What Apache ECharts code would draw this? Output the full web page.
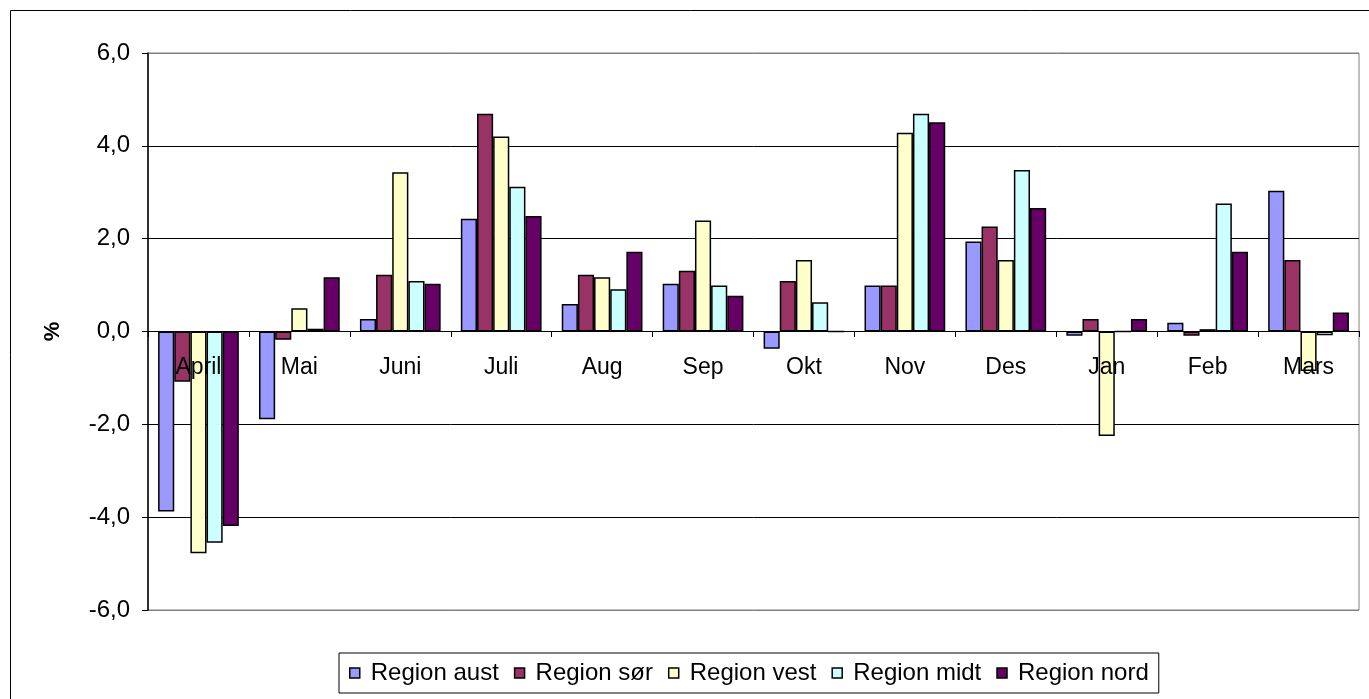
<!DOCTYPE html>
<html>
<head>
<meta charset="utf-8">
<script src="https://cdn.jsdelivr.net/npm/echarts@6/dist/echarts.min.js"></script>
<style>
  html, body { margin: 0; padding: 0; background: #fff; }
  #chart { width: 1369px; height: 699px; }
</style>
</head>
<body>
<div id="chart"></div>
<script>
const months = ['April', 'Mai', 'Juni', 'Juli', 'Aug', 'Sep', 'Okt', 'Nov', 'Des', 'Jan', 'Feb', 'Mars'];

const regionAust = [-3.88, -1.89, 0.27, 2.43, 0.59, 1.03, -0.37, 0.99, 1.94, -0.09, 0.19, 3.03];
const regionSor = [-1.08, -0.18, 1.22, 4.69, 1.22, 1.31, 1.09, 0.99, 2.26, 0.27, -0.09, 1.54];
const regionVest = [-4.78, 0.50, 3.43, 4.20, 1.17, 2.39, 1.54, 4.28, 1.54, -2.25, 0.05, -0.85];
const regionMidt = [-4.55, 0.06, 1.09, 3.12, 0.91, 0.99, 0.63, 4.69, 3.48, 0, 2.76, -0.08];
const regionNord = [-4.19, 1.17, 1.03, 2.49, 1.72, 0.77, 0, 4.51, 2.66, 0.27, 1.72, 0.41];

const seriesNames = ['Region aust', 'Region sør', 'Region vest', 'Region midt', 'Region nord'];
const seriesColors = ['#9999FF', '#993366', '#FFFFCC', '#CCFFFF', '#660066'];
const seriesData = [regionAust, regionSor, regionVest, regionMidt, regionNord];

const chart = echarts.init(document.getElementById('chart'), null, { renderer: 'canvas' });

const font = '"Liberation Sans", Arial, sans-serif';

// plot spans 53..610 px for -6..6, so the zero line sits 279 px above the bottom edge
const zeroOffset = -279;

chart.setOption({
  backgroundColor: '#fff',
  animation: false,
  textStyle: { fontFamily: font },
  grid: {
    left: 148,
    right: 10,
    top: 53,
    bottom: 89,
    show: true,
    borderColor: '#808080',
    borderWidth: 1
  },
  legend: {
    left: 339,
    top: 653,
    padding: [8, 10],
    itemGap: 15,
    itemWidth: 10,
    itemHeight: 10,
    icon: 'rect',
    borderColor: '#000',
    borderWidth: 1,
    textStyle: {
      fontFamily: font,
      fontSize: 24,
      color: '#000',
      padding: [0, 0, 0, 6]
    },
    data: seriesNames.map(name => ({
      name,
      itemStyle: { borderColor: '#000', borderWidth: 1.5 }
    }))
  },
  xAxis: {
    type: 'category',
    data: months,
    z: 10,
    offset: zeroOffset,
    axisLine: { onZero: false, lineStyle: { color: '#000', width: 1 } },
    axisTick: { show: true, length: 6, lineStyle: { color: '#000' } },
    axisLabel: { fontSize: 23, color: '#000', margin: 25, fontFamily: font },
    splitLine: { show: false }
  },
  yAxis: {
    type: 'value',
    min: -6,
    max: 6,
    interval: 2,
    name: '%',
    nameLocation: 'middle',
    nameGap: 84,
    nameRotate: 90,
    nameTextStyle: { fontSize: 22, fontWeight: 'bold', color: '#000', fontFamily: font },
    axisLine: { show: true, lineStyle: { color: '#000', width: 1.5 } },
    axisTick: { show: true, length: 6, lineStyle: { color: '#000' } },
    axisLabel: {
      fontSize: 24,
      color: '#000',
      margin: 18,
      fontFamily: font,
      formatter: v => v.toFixed(1).replace('.', ',')
    },
    splitLine: {
      show: true,
      lineStyle: { color: ['#808080', '#000', '#000', '#000', '#000', '#000', '#808080'], width: 1 }
    }
  },
  series: seriesNames.map((name, i) => ({
    name,
    type: 'bar',
    data: seriesData[i],
    barGap: '0%',
    barCategoryGap: '20%',
    itemStyle: {
      color: seriesColors[i],
      borderColor: '#000',
      borderWidth: 1.5
    }
  })),
  graphic: [
    {
      type: 'rect',
      left: 8,
      top: 8,
      shape: { width: 1400, height: 800 },
      style: { fill: 'none', stroke: '#000', lineWidth: 1 },
      silent: true
    }
  ]
});
</script>
</body>
</html>
